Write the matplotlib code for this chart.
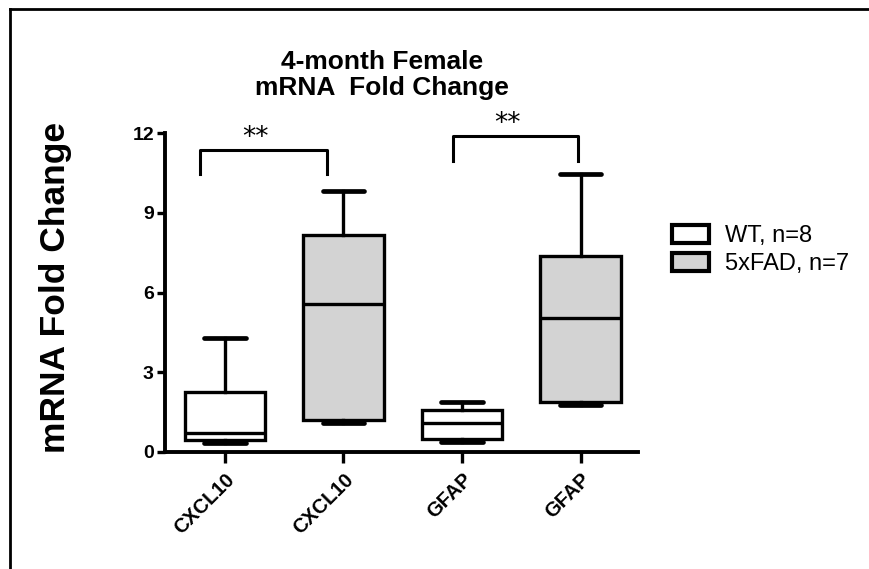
import matplotlib.pyplot as plt
from matplotlib.patches import Patch

plt.rcParams['font.family'] = ['Liberation Sans', 'DejaVu Sans']

# box stats (min, q1, median, q3, max)
labels = ["CXCL10", "CXCL10", "GFAP", "GFAP"]
groups = ["WT", "5xFAD", "WT", "5xFAD"]
whislo = [0.32, 1.09, 0.38, 1.78]
q1 = [0.45, 1.22, 0.50, 1.88]
med = [0.70, 5.58, 1.09, 5.05]
q3 = [2.26, 8.18, 1.59, 7.39]
whishi = [4.30, 9.81, 1.88, 10.44]

legend_labels = ["WT, n=8", "5xFAD, n=7"]
colors = {"WT": "white", "5xFAD": "#d3d3d3"}

# significance brackets: (left, right, bottom, top, text)
sig = [(-0.21, 0.86, 10.47, 11.37, "**"), (1.92, 2.98, 10.93, 11.9, "**")]

fig = plt.figure(figsize=(8.7, 5.69), dpi=100)
ax = fig.add_axes([165/870, 1 - 452/569, (638 - 165)/870, (452 - 133)/569])

stats = []
for i in range(len(labels)):
    stats.append(dict(whislo=whislo[i], q1=q1[i], med=med[i], q3=q3[i], whishi=whishi[i], fliers=[]))

lw = 2.4
bp = ax.bxp(stats, positions=range(len(labels)), widths=0.68, patch_artist=True,
            showfliers=False, capwidths=0.35,
            boxprops=dict(linewidth=lw, edgecolor="black"),
            medianprops=dict(linewidth=lw, color="black"),
            whiskerprops=dict(linewidth=lw, color="black"),
            capprops=dict(linewidth=lw + 1, color="black", solid_capstyle="round"))
for patch, g in zip(bp["boxes"], groups):
    patch.set_facecolor(colors[g])

for x0, x1, yb, yt, txt in sig:
    ax.plot([x0, x0, x1, x1], [yb, yt, yt, yb], color="black", lw=2.2, clip_on=False)
    ax.text((x0 + x1) / 2 - 0.07, yt - 0.05, txt, ha="center", va="bottom", fontsize=19,
            family="DejaVu Sans", clip_on=False)

ax.set_xlim(-0.506, 3.485)
ax.set_ylim(0, 12)
ax.set_yticks([0, 3, 6, 9, 12])
ax.set_xticks(range(len(labels)))
ax.set_xticklabels(labels, rotation=45, ha="right", rotation_mode="anchor",
                   fontsize=14.5, fontweight="bold")
for t in ax.get_yticklabels():
    t.set_fontsize(14)
    t.set_fontweight("bold")
ax.tick_params(axis="y", direction="out", length=6, width=2.4, pad=2)
ax.tick_params(axis="x", direction="out", length=8, width=2.4, pad=5)

for s in ["top", "right"]:
    ax.spines[s].set_visible(False)
for s in ["left", "bottom"]:
    ax.spines[s].set_linewidth(2.8)

ax.set_ylabel("mRNA Fold Change", fontsize=25.5, fontweight="bold")
ax.yaxis.set_label_coords((72 - 165) / 473, 0.517)

fig.text(382/870, 1 - 75/569, "4-month Female\nmRNA  Fold Change", ha="center", va="center",
         fontsize=19, fontweight="bold", linespacing=1.08)

handles = [Patch(facecolor=colors[g], edgecolor="black", linewidth=3) for g in ["WT", "5xFAD"]]
fig.legend(handles, legend_labels, loc="upper left", bbox_to_anchor=(651/870, 1 - 204/569),
           frameon=False, fontsize=17, handlelength=1.55, handleheight=0.75, handletextpad=0.7,
           labelspacing=0.25)

# outer frame (top and left edges)
fig.add_artist(plt.Line2D([10/870, 1], [1 - 9/569, 1 - 9/569], color="black", lw=2))
fig.add_artist(plt.Line2D([10/870, 10/870], [0, 1 - 9/569], color="black", lw=2))

fig.savefig("out.png", dpi=100)
